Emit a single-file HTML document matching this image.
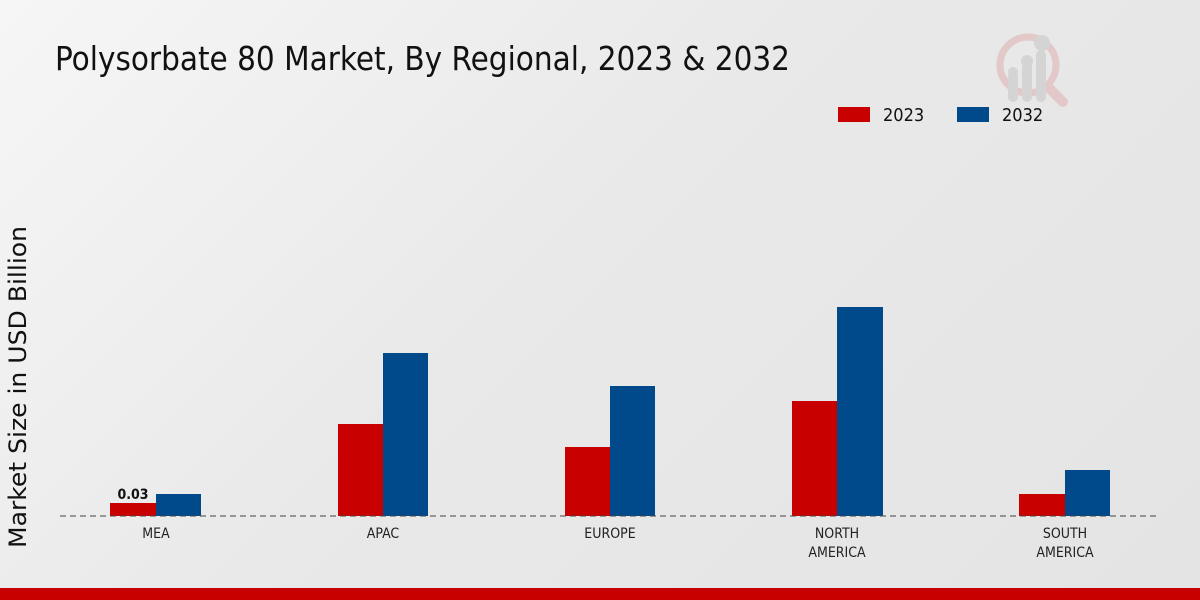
<!DOCTYPE html>
<html><head><style>
body{margin:0;width:1200px;height:600px;overflow:hidden;background:linear-gradient(135deg,#f6f6f6 0%,#e9e9e9 45%,#e4e4e4 100%);font-family:"DejaVu Sans Condensed","Liberation Sans",sans-serif;}
</style></head><body>
<svg width="1200" height="600" xmlns="http://www.w3.org/2000/svg" style="position:absolute;left:0;top:0">
<text x="55" y="70" font-size="33" fill="#111" font-family="DejaVu Sans Condensed, Liberation Sans, sans-serif" textLength="735" lengthAdjust="spacingAndGlyphs">Polysorbate 80 Market, By Regional, 2023 &amp; 2032</text>
<g opacity="0.6">
<circle cx="1028" cy="65" r="28" fill="none" stroke="#e0b4b4" stroke-width="7"/>
<line x1="1048" y1="87" x2="1063" y2="102" stroke="#e0b4b4" stroke-width="10" stroke-linecap="round"/>
<rect x="1008" y="72" width="10" height="30" rx="5" fill="#c8c8c8"/>
<rect x="1022" y="62" width="10" height="40" rx="5" fill="#c8c8c8"/>
<rect x="1036" y="50" width="10" height="52" rx="5" fill="#c8c8c8"/>
<circle cx="1013" cy="72" r="5" fill="#c8c8c8"/><circle cx="1027" cy="61" r="6" fill="#c8c8c8"/><circle cx="1042" cy="43" r="8" fill="#c8c8c8"/>
</g>
<rect x="838" y="107" width="32" height="15" fill="#c80000"/>
<text x="883" y="121" font-size="18" fill="#111">2023</text>
<rect x="957" y="107" width="32" height="15" fill="#004a8c"/>
<text x="1002" y="121" font-size="18" fill="#111">2032</text>
<text transform="translate(26,387) rotate(-90)" text-anchor="middle" font-size="24" fill="#111" font-family="DejaVu Sans, Liberation Sans, sans-serif" textLength="322" lengthAdjust="spacingAndGlyphs">Market Size in USD Billion</text>
<g fill="#c80000">
<rect x="110" y="503" width="46" height="13"/><rect x="338" y="424" width="45" height="92"/><rect x="565" y="447" width="45" height="69"/><rect x="792" y="401" width="45" height="115"/><rect x="1019" y="494" width="46" height="22"/>
</g>
<g fill="#004a8c">
<rect x="156" y="494" width="45" height="22"/><rect x="383" y="353" width="45" height="163"/><rect x="610" y="386" width="45" height="130"/><rect x="837" y="307" width="46" height="209"/><rect x="1065" y="470" width="45" height="46"/>
</g>
<line x1="60" y1="516" x2="1160" y2="516" stroke="#444" stroke-dasharray="6,4" stroke-width="1"/>
<text x="133" y="499" text-anchor="middle" font-size="14" font-weight="bold" fill="#111">0.03</text>
<g font-size="14" fill="#222" text-anchor="middle">
<text x="156" y="538">MEA</text><text x="383" y="538">APAC</text><text x="610" y="538">EUROPE</text>
<text x="837" y="538">NORTH</text><text x="837" y="557">AMERICA</text>
<text x="1065" y="538">SOUTH</text><text x="1065" y="557">AMERICA</text>
</g>
<rect x="0" y="588" width="1200" height="12" fill="#c80000"/>
</svg>
</body></html>
